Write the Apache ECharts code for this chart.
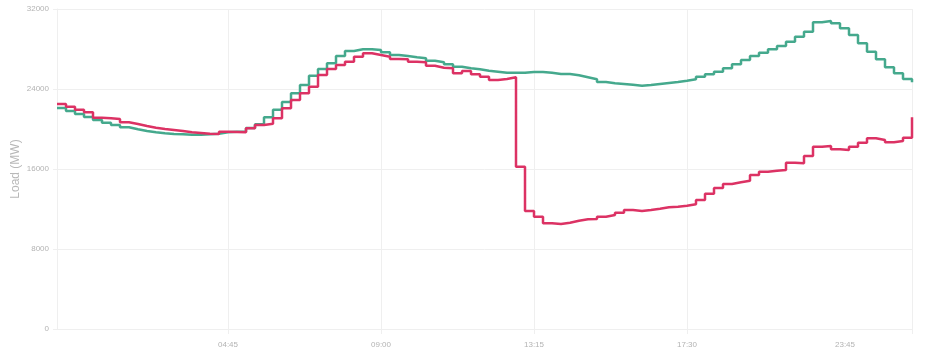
<!DOCTYPE html>
<html>
<head>
<meta charset="utf-8">
<script src="https://cdn.jsdelivr.net/npm/echarts@6/dist/echarts.min.js"></script>
<style>
html,body{margin:0;padding:0;background:#fff;}
#chart{width:926px;height:362px;}
</style>
</head>
<body>
<div id="chart"></div>
<script>
var times = ["00:00","00:15","00:30","00:45","01:00","01:15","01:30","01:45","02:00","02:15","02:30","02:45",
"03:00","03:15","03:30","03:45","04:00","04:15","04:30","04:45","05:00","05:15","05:30","05:45",
"06:00","06:15","06:30","06:45","07:00","07:15","07:30","07:45","08:00","08:15","08:30","08:45",
"09:00","09:15","09:30","09:45","10:00","10:15","10:30","10:45","11:00","11:15","11:30","11:45",
"12:00","12:15","12:30","12:45","13:00","13:15","13:30","13:45","14:00","14:15","14:30","14:45",
"15:00","15:15","15:30","15:45","16:00","16:15","16:30","16:45","17:00","17:15","17:30","17:45",
"18:00","18:15","18:30","18:45","19:00","19:15","19:30","19:45","20:00","20:15","20:30","20:45",
"21:00","21:15","21:30","21:45","22:00","22:15","22:30","22:45","23:00","23:15","23:30","23:45"];

var loadGreen = [22100,21800,21500,21200,20900,20630,20400,20170,19970,19800,19670,19570,
19500,19470,19430,19430,19470,19530,19670,19730,19730,20100,20470,21170,
21930,22700,23570,24400,25330,26000,26570,27300,27800,27970,27970,27900,
27670,27400,27300,27170,27070,26830,26670,26470,26230,26070,25970,25830,
25730,25630,25630,25630,25700,25700,25630,25500,25500,25370,25170,24970,
24700,24570,24500,24430,24330,24400,24500,24600,24700,24830,24970,25230,
25470,25730,26070,26470,26900,27300,27630,27970,28300,28730,29230,29730,
30670,30800,30570,30070,29400,28570,27730,26970,26170,25570,25000,24670];

var loadRed = [22500,22230,21930,21670,21130,21070,21000,20670,20500,20300,20130,20000,
19900,19800,19670,19600,19530,19500,19730,19700,19670,20070,20400,20530,
21070,22070,22900,23570,24230,25400,26000,26400,26730,27230,27570,27400,
27230,27000,26970,26730,26670,26330,26130,26070,25570,25800,25470,25230,
24900,25000,25170,16230,11800,11230,10570,10500,10630,10830,10970,11000,
11230,11400,11630,11900,11800,11900,12030,12170,12230,12330,12470,12900,
13530,14100,14500,14670,14830,15400,15730,15830,15900,16630,16570,17300,
18230,18300,17970,17900,18230,18630,19070,18900,18670,18800,19130,21170];

var shownLabelIdx = [19, 36, 53, 70, 95];

var chart = echarts.init(document.getElementById('chart'), null, {renderer: 'canvas'});
var intervalFn = function (idx) { return shownLabelIdx.indexOf(idx) >= 0; };
var gridColor = '#efefef';
var textFont = 'Liberation Sans';

chart.setOption({
  animation: false,
  backgroundColor: '#fff',
  grid: {left: 57, right: 14, top: 9, bottom: 33, containLabel: false, outerBoundsMode: 'none'},
  xAxis: {
    type: 'category',
    data: times,
    boundaryGap: false,
    axisLine: {show: true, lineStyle: {color: gridColor, width: 1}},
    axisTick: {show: true, interval: intervalFn, length: 5, lineStyle: {color: gridColor}},
    splitLine: {show: true, interval: intervalFn, lineStyle: {color: gridColor, width: 1}},
    axisLabel: {
      interval: intervalFn,
      color: '#b3b3b3',
      fontSize: 8,
      fontFamily: textFont,
      margin: 12,
      formatter: function (val, idx) {
        return idx === 95 ? '{s|' + val + '}' : val;
      },
      rich: {s: {color: '#b3b3b3', fontSize: 8, fontFamily: textFont, padding: [0, 134, 0, 0]}}
    }
  },
  yAxis: {
    type: 'value',
    min: 0,
    max: 32000,
    interval: 8000,
    name: 'Load (MW)',
    nameLocation: 'middle',
    nameGap: 35,
    nameMoveOverlap: false,
    nameTextStyle: {color: '#b8b8b8', fontSize: 12, fontFamily: textFont},
    axisLine: {show: true, lineStyle: {color: gridColor, width: 1}},
    axisTick: {show: true, length: 4, lineStyle: {color: gridColor}},
    splitLine: {show: true, lineStyle: {color: gridColor, width: 1}},
    axisLabel: {
      color: '#b3b3b3', fontSize: 8, fontFamily: textFont, margin: 8,
      formatter: function (v) { return String(v); }
    }
  },
  series: [
    {
      type: 'line',
      step: 'end',
      data: loadGreen,
      showSymbol: false,
      lineStyle: {color: '#45a98d', width: 2.5},
      itemStyle: {color: '#45a98d'}
    },
    {
      type: 'line',
      step: 'end',
      data: loadRed,
      showSymbol: false,
      lineStyle: {color: '#dc3264', width: 2.5},
      itemStyle: {color: '#dc3264'}
    }
  ]
});
</script>
</body>
</html>
